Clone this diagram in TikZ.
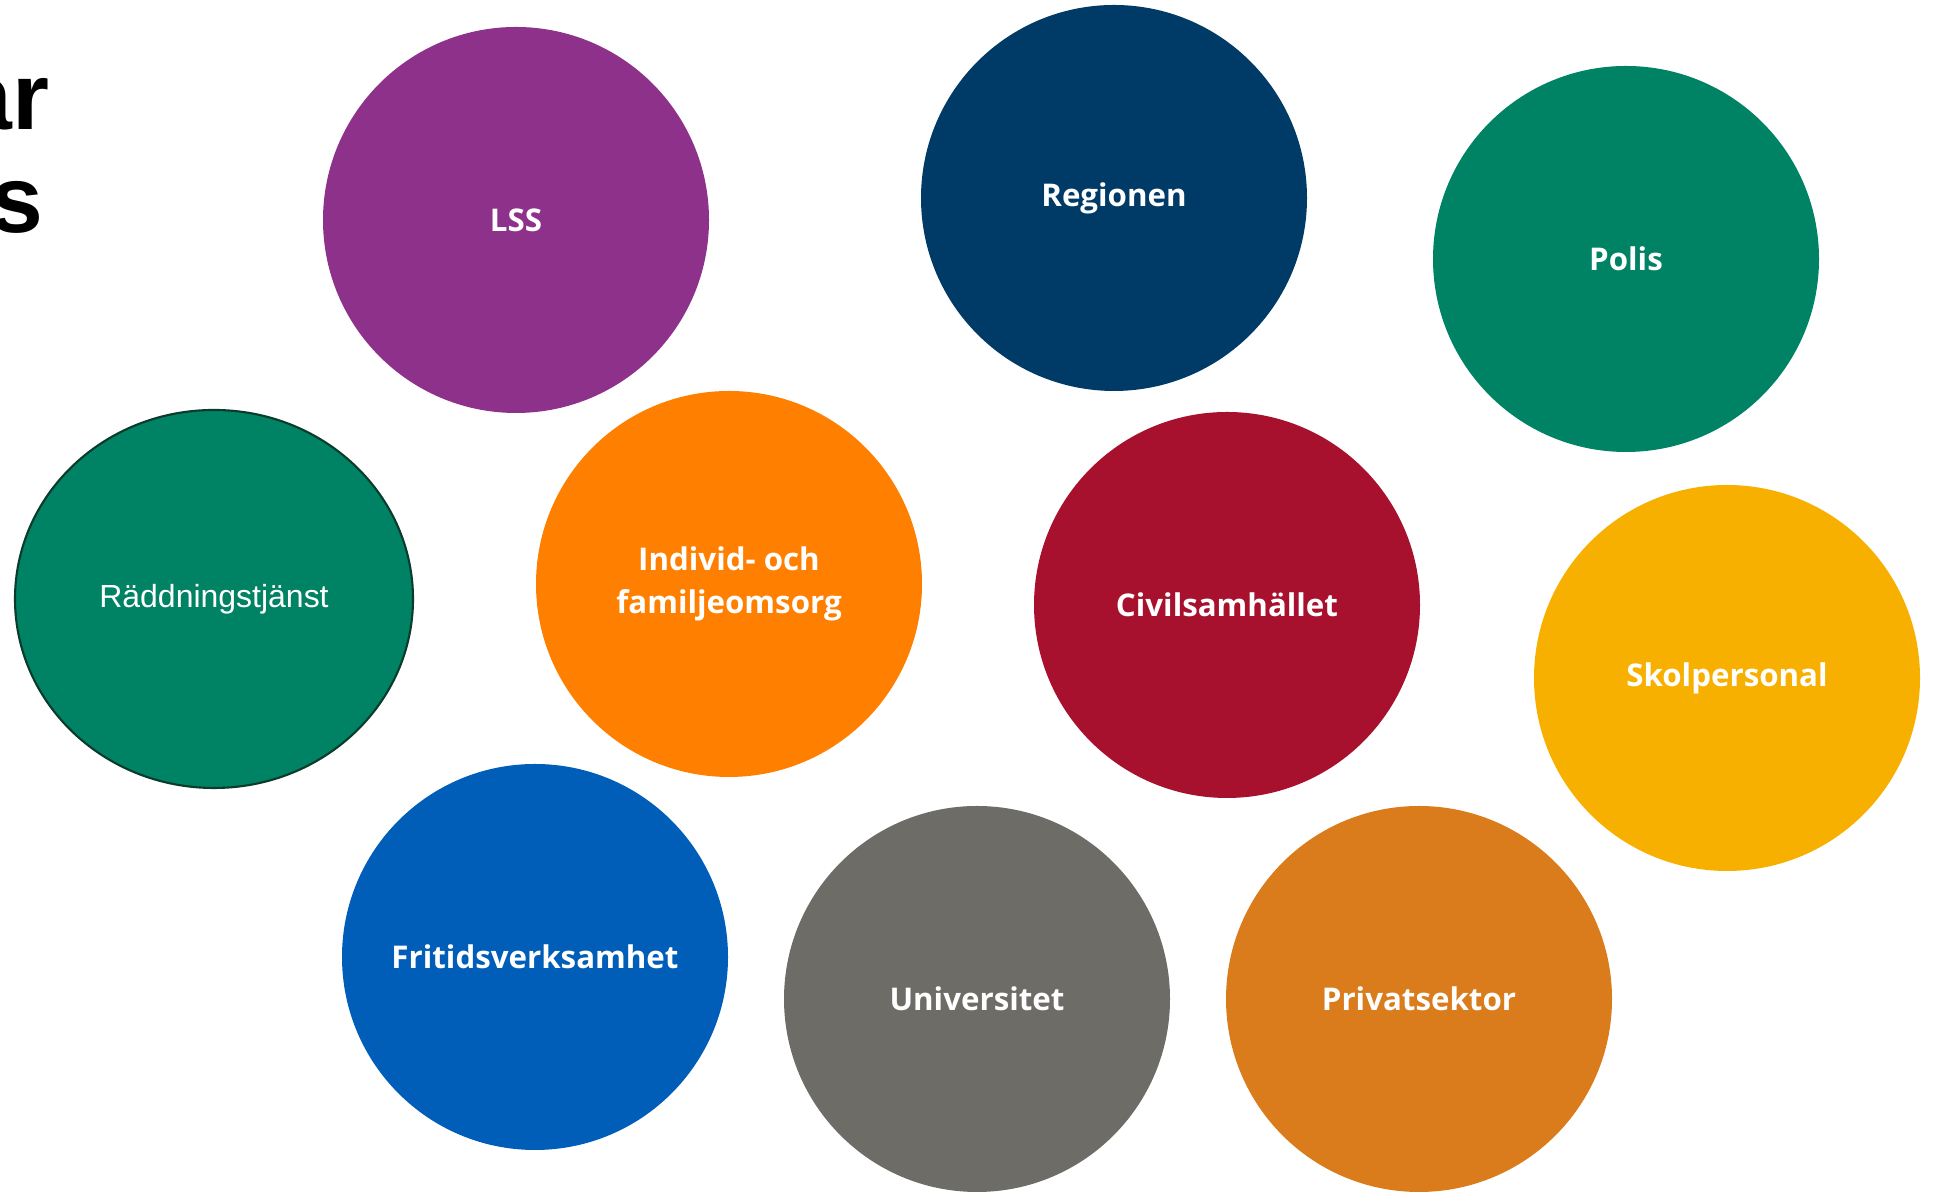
\documentclass[tikz,border=0pt]{standalone}
\usepackage{fontspec}
\setmainfont{Open Sans}
\newfontfamily\arialfont{Liberation Sans}
\usetikzlibrary{shapes.geometric}
\definecolor{lsspurple}{HTML}{8E318B}
\definecolor{regnavy}{HTML}{003A66}
\definecolor{polgreen}{HTML}{008264}
\definecolor{ifoorange}{HTML}{FF8000}
\definecolor{civred}{HTML}{A8112E}
\definecolor{skolyellow}{HTML}{F8B000}
\definecolor{fritblue}{HTML}{005EB8}
\definecolor{unigray}{HTML}{6D6C66}
\definecolor{privorange}{HTML}{DA7C1C}
\definecolor{raddedge}{HTML}{0B3B2B}
\begin{document}
\begin{tikzpicture}[
	bubble/.style={circle,minimum size=3.86cm,inner sep=0pt,text=white,
		font=\bfseries\fontsize{8.9}{12.2}\selectfont,align=center},
	titletext/.style={anchor=base east,inner sep=0pt,
		font=\arialfont\bfseries\fontsize{27}{30}\selectfont}]
	\useasboundingbox (0,0) rectangle (19.37,11.96);
	% cut-off heading at the left edge
	\node[titletext] (head1) at (0.50,10.66) {ar};
	\node[titletext] (head2) at (0.44,9.63) {s};
	% top row
	\node[bubble,fill=lsspurple] (lss) at (5.16,9.76) {LSS};
	\node[bubble,fill=regnavy] (regionen) at (11.14,9.98) {Regionen};
	\node[bubble,fill=polgreen] (polis) at (16.26,9.37) {Polis};
	% middle row
	\node[ellipse,draw=raddedge,line width=0.6pt,fill=polgreen,text=white,
		minimum width=3.98cm,minimum height=3.78cm,inner sep=0pt,
		font=\arialfont\fontsize{9.1}{11}\selectfont] (radd) at (2.14,5.97) {Räddningstjänst};
	\node[bubble,fill=ifoorange] (ifo) at (7.29,6.12) {Individ- och\\familjeomsorg};
	\node[bubble,fill=civred] (civil) at (12.27,5.91) {Civilsamhället};
	\node[bubble,fill=skolyellow] (skol) at (17.27,5.18) {Skolpersonal};
	% bottom row
	\node[bubble,fill=fritblue] (fritid) at (5.35,2.39) {Fritidsverksamhet};
	\node[bubble,fill=unigray] (uni) at (9.77,1.97) {Universitet};
	\node[bubble,fill=privorange] (privat) at (14.19,1.97) {Privatsektor};
\end{tikzpicture}
\end{document}
